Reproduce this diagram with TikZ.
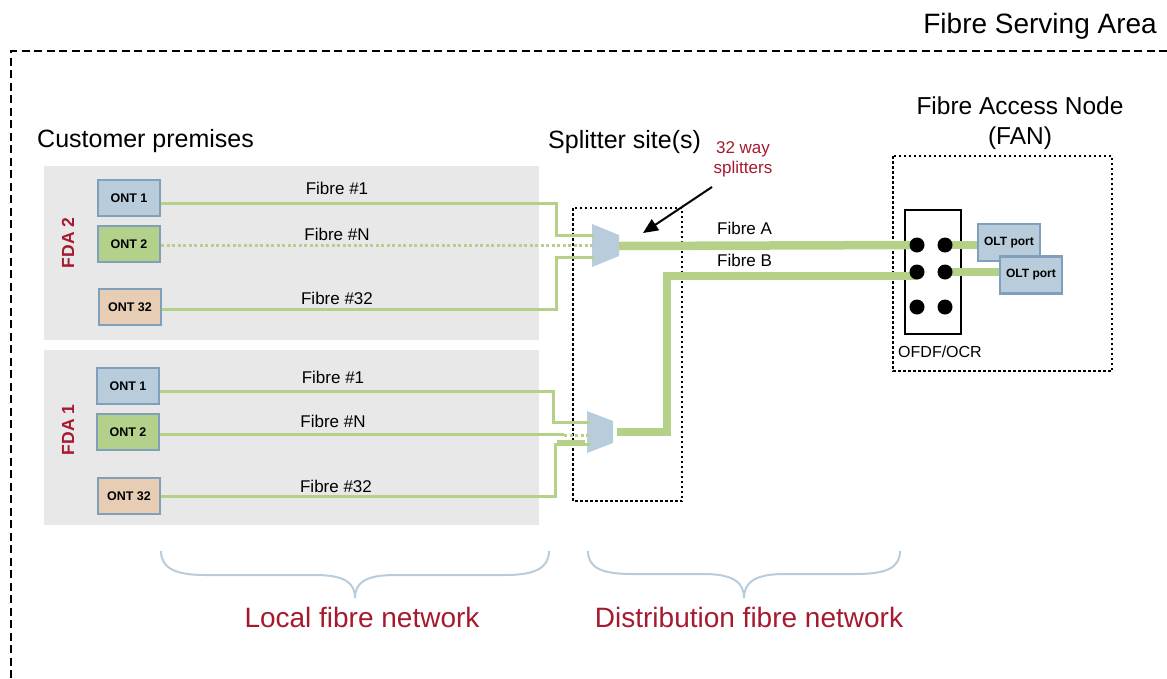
\documentclass[tikz,border=0pt]{standalone}
\usepackage{fontspec}
\setmainfont{Liberation Sans}
\usetikzlibrary{arrows.meta}
\definecolor{areagray}{RGB}{232,232,232}
\definecolor{ontblue}{RGB}{184,204,219}
\definecolor{ontgreen}{RGB}{179,209,138}
\definecolor{onttan}{RGB}{230,205,180}
\definecolor{ontborder}{RGB}{127,159,186}
\definecolor{fibregreen}{RGB}{181,209,136}
\definecolor{labelred}{RGB}{166,25,46}
\definecolor{bracecol}{RGB}{184,204,219}
\newcommand{\fs}[1]{\fontsize{#1}{#1}\selectfont}
\tikzset{
  ontbox/.style={draw=ontborder, line width=2.2pt, minimum width=62pt, minimum height=36pt, inner sep=0pt, font=\bfseries\fs{12.5}},
  oltbox/.style={draw=ontborder, line width=2.2pt, minimum width=62pt, minimum height=37pt, inner sep=0pt, fill=ontblue, font=\bfseries\fs{12}},
  fibre/.style={draw=fibregreen, line width=3pt},
  fibredot/.style={draw=fibregreen, line width=3pt, dash pattern=on 3pt off 2.5pt},
  trunk/.style={draw=fibregreen, line width=8.5pt},
  fibrelabel/.style={font=\fs{17}, inner sep=0pt, anchor=base},
  fdalabel/.style={font=\bfseries\fs{17.5}, text=labelred, rotate=90, inner sep=0pt},
  dotbox/.style={draw=black, line width=2.3pt, dash pattern=on 2.5pt off 2.5pt},
  portdot/.style={circle, fill=black, minimum size=15pt, inner sep=0pt},
  splitter/.style={fill=ontblue},
  bracestyle/.style={draw=bracecol, line width=2pt},
  heading/.style={font=\fs{25}, inner sep=0pt},
  netlabel/.style={font=\fs{28}, text=labelred, inner sep=0pt, anchor=base},
}
\begin{document}
\begin{tikzpicture}[x=1pt,y=-1pt]
\useasboundingbox (0,0) rectangle (1167,678);

% outer serving area
\draw[line width=2pt, dash pattern=on 8pt off 4.5pt] (11,678) -- (11,51) -- (1167,51);
\node[heading, font=\fs{28}, anchor=base east] (fsa) at (1157,33) {Fibre Serving Area};

% headings
\node[heading, anchor=base west] (cp) at (37,147) {Customer premises};
\node[heading, anchor=base west] (ss) at (548,148) {Splitter site(s)};
\node[heading, font=\fs{24.5}, anchor=base] (fan) at (1020,114) {Fibre Access Node};
\node[heading, font=\fs{24.5}, anchor=base] (fan2) at (1020,144) {(FAN)};

% grey areas
\fill[areagray] (44,166) rectangle (539,340);
\fill[areagray] (44,350) rectangle (539,525);

\node[fdalabel] (fda2) at (68,243) {FDA 2};
\node[fdalabel] (fda1) at (68,430) {FDA 1};

% splitter site box and FAN box
\draw[dotbox] (573,208) rectangle (682,501);
\draw[dotbox] (893,156) rectangle (1112,371);

% ONTs FDA2
\node[ontbox, fill=ontblue]  (a1)  at (129,198) {ONT 1};
\node[ontbox, fill=ontgreen] (a2)  at (129,244) {ONT 2};
\node[ontbox, fill=onttan]   (a32) at (130,307) {ONT 32};
% ONTs FDA1
\node[ontbox, fill=ontblue]  (b1)  at (128,386) {ONT 1};
\node[ontbox, fill=ontgreen] (b2)  at (128,432) {ONT 2};
\node[ontbox, fill=onttan]   (b32) at (129,496) {ONT 32};

% splitters
\fill[splitter] (592,224) -- (619,235) -- (619,256) -- (592,267) -- cycle;
\coordinate (sAin1) at (594,235);
\coordinate (sAinN) at (594,245);
\coordinate (sAin32) at (594,257);
\coordinate (sAout) at (619,246);
\fill[splitter] (587,411) -- (613,421) -- (613,443) -- (587,453) -- cycle;
\coordinate (sBin1) at (590,422);
\coordinate (sBinN) at (590,435);
\coordinate (sBin32) at (591,444);
\coordinate (sBout) at (617,432);

% FDA2 fibres
\draw[fibre] ([yshift=-5pt]a1.east) -- (556,203) -- (556,235) -- (sAin1);
\draw[fibredot] ([yshift=-1pt]a2.east) -- (sAinN);
\draw[fibre] ([yshift=-2pt]a32.east) -- (556,309) -- (556,257) -- (sAin32);
\node[fibrelabel] (fa1) at (337,194) {Fibre \#1};
\node[fibrelabel] (faN) at (337,240) {Fibre \#N};
\node[fibrelabel] (fa32) at (337,304) {Fibre \#32};

% FDA1 fibres
\draw[fibre] ([yshift=-5pt]b1.east) -- (553,391) -- (553,422) -- (sBin1);
\draw[fibre] ([yshift=-2pt]b2.east) -- (564,434);
\draw[fibredot] (564,435) -- (sBinN);
\draw[fibre] (b32.east) -- (555,496) -- (555,444) -- (sBin32);
\draw[fibre] (557,441) -- (585,441);
\node[fibrelabel] (fb1) at (333,383) {Fibre \#1};
\node[fibrelabel] (fbN) at (333,427) {Fibre \#N};
\node[fibrelabel] (fb32) at (336,492) {Fibre \#32};

% OFDF
\node[draw=black, line width=2pt, minimum width=56pt, minimum height=124pt, inner sep=0pt] (ofdf) at (933,272) {};
\node[font=\fs{16}, inner sep=0pt, anchor=base] (ofdfl) at (940,357) {OFDF/OCR};

% OLT ports
\node[oltbox] (olt1) at (1009,242.5) {OLT port};

% dots coordinates
\coordinate (p11) at (917,245);
\coordinate (p12) at (945,245);
\coordinate (p21) at (917,272);
\coordinate (p22) at (945,272);

% trunks
\draw[trunk] (sAout) -- (p11);
\draw[trunk, line join=miter] (sBout) -- (667,432) -- (667,276) -- (p21 |- 0,276);
\draw[trunk] (p12) -- (p12 -| olt1.west);
\node[oltbox] (olt2) at (1031,275) {OLT port};
\draw[trunk] (p22) -- (p22 -| olt2.west);

\node[portdot] (d11) at (p11) {};
\node[portdot] (d12) at (p12) {};
\node[portdot] (d21) at (p21) {};
\node[portdot] (d22) at (p22) {};
\node[portdot] (d31) at (917,307) {};
\node[portdot] (d32) at (945,307) {};

\node[font=\fs{17}, inner sep=0pt, anchor=base west] (fA) at (717,234) {Fibre A};
\node[font=\fs{17}, inner sep=0pt, anchor=base west] (fB) at (717,266) {Fibre B};

% splitter callout
\node[font=\fontsize{17}{20}\selectfont, text=labelred, align=center, inner sep=0pt, anchor=base] (way) at (743,173) {32 way\\splitters};
\coordinate (arrtip) at (643,233);
\draw[line width=2pt, -{Triangle[length=15pt,width=13pt]}] (712,187) -- (arrtip);

% braces
\draw[bracestyle] (161,551) .. controls (161,568) and (175,575) .. (205,575) -- (315,575) .. controls (345,575) and (355,583) .. (355,598) .. controls (355,583) and (365,575) .. (395,575) -- (505,575) .. controls (535,575) and (549,568) .. (549,551);
\draw[bracestyle] (588,551) .. controls (588,568) and (602,574) .. (632,574) -- (704,574) .. controls (734,574) and (744,583) .. (744,598) .. controls (744,583) and (754,574) .. (784,574) -- (856,574) .. controls (886,574) and (900,568) .. (900,551);

\node[netlabel] (lfn) at (362,627) {Local fibre network};
\node[netlabel] (dfn) at (749,627) {Distribution fibre network};
\end{tikzpicture}
\end{document}
